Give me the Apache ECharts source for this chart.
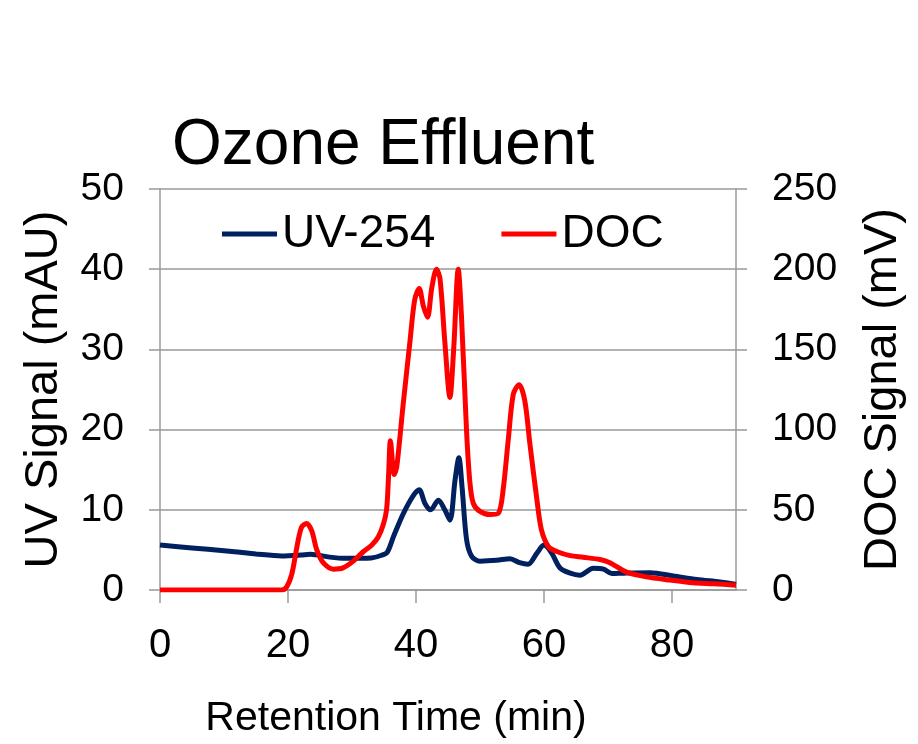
<!DOCTYPE html>
<html>
<head>
<meta charset="utf-8">
<script src="https://cdn.jsdelivr.net/npm/echarts@6/dist/echarts.min.js"></script>
<style>
html,body{margin:0;padding:0;background:#fff;}
#c{width:918px;height:744px;}
</style>
</head>
<body>
<div id="c"></div>
<script>
// ---- data ----
var chartTitle = 'Ozone Effluent';
var xTicks = [0, 20, 40, 60, 80];
var uvTicks = [0, 10, 20, 30, 40, 50];
var docTicks = [0, 50, 100, 150, 200, 250];

var uvTime = [0, 5, 10, 15, 19, 22, 23.5, 26.5, 29, 33, 34.5, 35.5, 36.5, 38, 39.6, 40.5, 41.4, 42.3, 43.5, 44.5, 45.3, 46.1, 46.7, 47.2, 47.9, 48.7, 50, 52.6, 54.7, 56.2, 57.5, 58.9, 60, 61.2, 62.5, 64.1, 65.6, 67.7, 69.3, 70.6, 72.5, 76.6, 80.2, 83.9, 87.5, 90];
var uvValue = [5.6, 5.25, 4.9, 4.5, 4.25, 4.35, 4.45, 4.1, 3.95, 4.0, 4.3, 4.7, 6.7, 9.5, 11.8, 12.5, 10.8, 10.0, 11.2, 10.0, 8.7, 13.7, 16.5, 12.8, 6.3, 4.2, 3.6, 3.7, 3.9, 3.4, 3.2, 4.6, 5.6, 4.6, 2.75, 2.1, 1.85, 2.7, 2.6, 2.05, 2.1, 2.15, 1.75, 1.3, 1.0, 0.7];

var docTime = [0, 19, 19.8, 20.6, 21.4, 22.1, 22.9, 23.7, 24.5, 25.5, 27.1, 28.6, 30.2, 31.8, 33.1, 34.1, 34.9, 35.4, 35.7, 36.0, 36.6, 37.0, 38.0, 39.06, 39.8, 40.5, 41.15, 41.8, 42.45, 43.2, 43.75, 44.5, 45.3, 45.9, 46.6, 47.1, 47.9, 48.4, 48.95, 50, 51.6, 52.9, 53.6, 54.4, 55.2, 56.1, 57.0, 57.8, 58.9, 59.6, 60.7, 62, 64.1, 66.1, 68.75, 70.3, 72.9, 76, 79.7, 83.3, 86.5, 90];
var docValue = [0, 0, 2, 10, 27, 39, 41.5, 37, 25, 17, 13, 13.8, 18, 24, 28, 33, 41, 50, 70, 93, 72, 77, 116, 155, 181, 188, 177, 170, 188, 200, 194, 155, 120, 151, 200, 171, 99, 68, 54, 49, 47, 48, 62, 93, 122, 128, 118, 91, 56, 37.5, 27, 24, 21.4, 20.4, 19, 17, 11.1, 8.2, 6.2, 4.5, 3.9, 3.0];

var uvData = uvTime.map(function (t, i) { return [t, uvValue[i]]; });
var docData = docTime.map(function (t, i) { return [t, docValue[i]]; });

var FONT = '"Liberation Sans", Arial, sans-serif';
var GRAY = '#999999';

var chart = echarts.init(document.getElementById('c'), null, {renderer: 'canvas'});
chart.setOption({
  backgroundColor: '#ffffff',
  animation: false,
  title: {
    text: chartTitle,
    left: 172,
    top: 114,
    padding: 0,
    textStyle: {fontFamily: FONT, fontSize: 64, fontWeight: 'normal', color: '#000'}
  },
  legend: {
    left: 222,
    top: 211,
    padding: 0,
    itemGap: 66,
    itemWidth: 55,
    itemHeight: 5,
    icon: 'rect',
    textStyle: {fontFamily: FONT, fontSize: 46, color: '#000'},
    data: ['UV-254', 'DOC']
  },
  grid: {left: 160, right: 182, top: 189, bottom: 150, containLabel: false},
  xAxis: {
    type: 'value',
    min: 0,
    max: 90,
    interval: 20,
    name: 'Retention Time (min)',
    nameLocation: 'middle',
    nameGap: 108,
    nameTextStyle: {fontFamily: FONT, fontSize: 41, color: '#000', padding: [0, 104, 0, 0]},
    axisLine: {show: true, lineStyle: {color: GRAY, width: 1.5}},
    axisTick: {show: true, length: 13, inside: false, lineStyle: {color: GRAY, width: 1.5}, customValues: xTicks},
    axisLabel: {fontFamily: FONT, fontSize: 40, color: '#000', margin: 36, customValues: xTicks},
    splitLine: {show: false}
  },
  yAxis: [{
    type: 'value',
    position: 'left',
    min: 0,
    max: 50,
    interval: 10,
    name: 'UV Signal (mAU)',
    nameLocation: 'middle',
    nameRotate: 90,
    nameGap: 92,
    nameTextStyle: {fontFamily: FONT, fontSize: 47, color: '#000'},
    axisLine: {show: true, lineStyle: {color: GRAY, width: 1.5}},
    axisTick: {show: true, length: 11, lineStyle: {color: GRAY, width: 1.5}},
    axisLabel: {fontFamily: FONT, fontSize: 39, color: '#000', margin: 36},
    splitLine: {show: true, lineStyle: {color: GRAY, width: 1.5}}
  }, {
    type: 'value',
    position: 'right',
    min: 0,
    max: 250,
    interval: 50,
    name: 'DOC Signal (mV)',
    nameLocation: 'middle',
    nameRotate: 90,
    nameGap: 124,
    nameTextStyle: {fontFamily: FONT, fontSize: 47, color: '#000'},
    axisLine: {show: true, lineStyle: {color: GRAY, width: 1.5}},
    axisTick: {show: true, length: 11, lineStyle: {color: GRAY, width: 1.5}},
    axisLabel: {fontFamily: FONT, fontSize: 39, color: '#000', margin: 36},
    splitLine: {show: false}
  }],
  series: [{
    name: 'UV-254',
    type: 'line',
    yAxisIndex: 0,
    data: uvData,
    showSymbol: false,
    symbol: 'none',
    smooth: 0.3,
    itemStyle: {color: '#002060'},
    lineStyle: {color: '#002060', width: 5}
  }, {
    name: 'DOC',
    type: 'line',
    yAxisIndex: 1,
    data: docData,
    showSymbol: false,
    symbol: 'none',
    smooth: 0.3,
    itemStyle: {color: '#ff0000'},
    lineStyle: {color: '#ff0000', width: 5}
  }]
});
</script>
</body>
</html>
